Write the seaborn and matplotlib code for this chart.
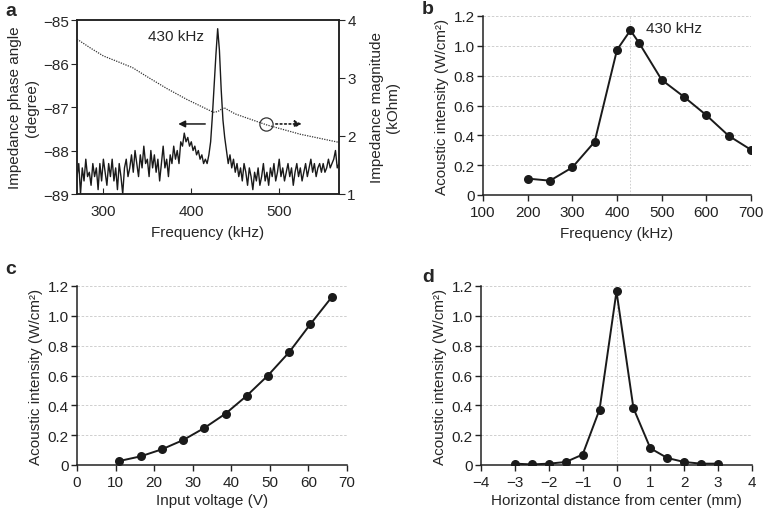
import numpy as np
import pandas as pd
import matplotlib
matplotlib.use('Agg')
import matplotlib.pyplot as plt
import seaborn as sns

sns.set_style('ticks')
plt.rcParams['font.family'] = ['Liberation Sans', 'DejaVu Sans']
plt.rcParams['font.size'] = 9.5

# panel a: impedance spectrum (2 kHz steps)
freqA = np.arange(270, 570, 2)
phaseA = [
    -88.6, -88.3, -89.0, -88.4, -88.7, -88.2, -88.6, -88.5, -88.8, -88.3,
    -88.6, -88.4, -88.9, -88.3, -88.7, -88.2, -88.5, -88.8, -88.3, -88.6,
    -88.2, -88.7, -88.4, -88.9, -88.3, -88.6, -89.0, -88.4, -88.2, -88.6,
    -88.4, -88.1, -88.5, -88.0, -88.3, -88.6, -88.1, -88.4, -87.9, -88.3,
    -88.2, -88.6, -88.0, -88.4, -88.1, -88.5, -88.2, -88.7, -88.3, -87.9,
    -88.4, -88.2, -88.6, -88.1, -88.3, -87.9, -88.2, -88.0, -88.3, -87.8,
    -87.9, -87.6, -87.8, -87.7, -87.9, -87.8, -88.0, -87.9, -88.1, -88.0,
    -88.2, -88.1, -88.3, -88.2, -88.3, -88.1, -87.8, -87.2, -86.5, -85.8,
    -85.2, -85.7, -86.6, -87.3, -87.7, -88.0, -88.3, -88.1, -88.4, -88.2,
    -88.5, -88.3, -88.6, -88.4, -88.7, -88.3, -88.5, -88.8, -88.4, -88.6,
    -88.9, -88.5, -88.7, -88.4, -88.8, -88.6, -88.3, -88.7, -88.5, -88.8,
    -88.4, -88.6, -88.3, -88.7, -88.5, -88.2, -88.6, -88.4, -88.7, -88.5,
    -88.3, -88.6, -88.4, -88.8, -88.5, -88.3, -88.6, -88.4, -88.7, -88.5,
    -88.3, -88.6, -88.4, -88.2, -88.5, -88.3, -88.6, -88.4, -88.3, -88.5,
    -88.3, -88.5, -88.4, -88.2, -88.4, -88.3, -88.2, -88.0, -88.4, -88.3,
]
magFreq = [270, 285, 300, 315, 333, 350, 372, 395, 410, 425, 430, 437, 450, 486, 524, 568]
magVal = [3.67, 3.52, 3.38, 3.29, 3.18, 3.02, 2.82, 2.63, 2.52, 2.41, 2.42, 2.49, 2.38, 2.19, 2.03, 1.89]

# panel b: intensity vs frequency
freqB = [200, 250, 300, 350, 400, 430, 450, 500, 550, 600, 650, 700]
intensB = [0.11, 0.096, 0.185, 0.357, 0.973, 1.104, 1.017, 0.772, 0.658, 0.535, 0.397, 0.303]

# panel c: intensity vs voltage
voltC = [11, 16.5, 22, 27.5, 33, 38.5, 44, 49.5, 55, 60.5, 66]
intensC = [0.027, 0.058, 0.105, 0.167, 0.248, 0.344, 0.464, 0.60, 0.756, 0.944, 1.124]

# panel d: lateral profile
distD = [-3, -2.5, -2, -1.5, -1, -0.5, 0, 0.5, 1, 1.5, 2, 2.5, 3]
intensD = [0.009, 0.004, 0.009, 0.02, 0.07, 0.372, 1.164, 0.381, 0.112, 0.047, 0.02, 0.009, 0.009]

intensTicks = [0, 0.2, 0.4, 0.6, 0.8, 1.0, 1.2]
intensTickLabels = ['0', '0.2', '0.4', '0.6', '0.8', '1.0', '1.2']
ylab = 'Acoustic intensity (W/cm²)'

fig = plt.figure(figsize=(7.64, 5.10), dpi=100)

def style_intensity(ax):
    ax.set_ylim(0, 1.2)
    ax.set_yticks(intensTicks)
    ax.set_yticklabels(intensTickLabels)
    for t in intensTicks[1:]:
        ax.axhline(t, color='#c8c8c8', lw=0.6, ls=(0, (3, 2)), zorder=0)
    sns.despine(ax=ax)
    ax.tick_params(direction='out', length=4, width=1, colors='#222222', labelsize=11, pad=2)
    ax.tick_params(axis='x', pad=3.5)
    for s in ['left', 'bottom']:
        ax.spines[s].set_linewidth(1.1)
        ax.spines[s].set_color('#222222')
    ax.set_ylabel(ylab, fontsize=11, labelpad=3)

def dots(ax, x, y):
    sns.lineplot(x=x, y=y, ax=ax, color='#1a1a1a', lw=1.4, marker='o',
                 markersize=6.5, markeredgewidth=0, zorder=3)

# ---- a
axA = fig.add_axes([77/764, 1 - 195/510, 262/764, 174/510])
sns.lineplot(x=freqA, y=phaseA, ax=axA, color='#1a1a1a', lw=1.0)
axA.set_xlim(270, 568)
axA.set_ylim(-89, -85)
axA.set_yticks([-89, -88, -87, -86, -85])
axA.set_xticks([300, 400, 500])
axA.tick_params(axis='y', direction='out', length=4, labelsize=11, pad=2)
axA.tick_params(axis='x', direction='in', length=4, labelsize=11, pad=7)
axA.set_xlabel('Frequency (kHz)', fontsize=11, labelpad=5)
axA.set_ylabel('Impedance phase angle\n(degree)', fontsize=11, labelpad=3)
axB2 = axA.twinx()
sns.lineplot(x=magFreq, y=magVal, ax=axB2, color='#333333', lw=0.9, ls=(0, (1, 1)))
axB2.set_ylim(1, 4)
axB2.set_yticks([1, 2, 3, 4])
axB2.tick_params(axis='y', direction='out', length=4, labelsize=11, pad=2)
axB2.set_ylabel('Impedance magnitude\n(kOhm)', fontsize=11, labelpad=10)
for a in (axA, axB2):
    for s in a.spines.values():
        s.set_linewidth(1.1)
        s.set_color('#222222')
axA.text(383, -85.37, '430 kHz', ha='center', va='center', fontsize=11)
axA.annotate('', xy=(382, -87.39), xytext=(419, -87.39),
             arrowprops=dict(arrowstyle='-|>', color='#1a1a1a', lw=1.1, mutation_scale=10))
axA.plot([485], [-87.39], marker='o', ms=9.5, mfc='none', mec='#333333', mew=0.9)
axA.annotate('', xy=(529, -87.39), xytext=(493, -87.39),
             arrowprops=dict(arrowstyle='-|>', color='#1a1a1a', lw=1.2, ls=':', mutation_scale=10))
fig.text(5/764, 1 - 12/510, 'a', fontsize=14, fontweight='bold', va='center', ha='left')

# ---- b
axB = fig.add_axes([483/764, 1 - 196/510, 268/764, 179/510])
axB.axvline(430, color='#c8c8c8', lw=0.6, ls=(0, (2, 2)), zorder=0)
dots(axB, freqB, intensB)
style_intensity(axB)
axB.set_xlim(100, 700)
axB.set_xticks([100, 200, 300, 400, 500, 600, 700])
axB.set_xlabel('Frequency (kHz)', fontsize=11, labelpad=5)
axB.text(465, 1.12, '430 kHz', ha='left', va='center', fontsize=11)
fig.text(422/764, 1 - 10/510, 'b', fontsize=14, fontweight='bold', va='center', ha='left')

# ---- c
axC = fig.add_axes([77/764, 1 - 466/510, 270/764, 179/510])
dots(axC, voltC, intensC)
style_intensity(axC)
axC.set_xlim(0, 70)
axC.set_xticks(range(0, 71, 10))
axC.set_xlabel('Input voltage (V)', fontsize=11, labelpad=2.5)
fig.text(5/764, 1 - 270/510, 'c', fontsize=14, fontweight='bold', va='center', ha='left')

# ---- d
axD = fig.add_axes([481/764, 1 - 466/510, 271/764, 179/510])
axD.axvline(0, color='#c8c8c8', lw=0.6, ls=(0, (2, 2)), zorder=0)
dots(axD, distD, intensD)
style_intensity(axD)
axD.set_xlim(-4, 4)
axD.set_xticks(range(-4, 5))
axD.set_xlabel('Horizontal distance from center (mm)', fontsize=11, labelpad=2.5)
fig.text(422/764, 1 - 278/510, 'd', fontsize=14, fontweight='bold', va='center', ha='left')

fig.savefig('out.png', dpi=100)
